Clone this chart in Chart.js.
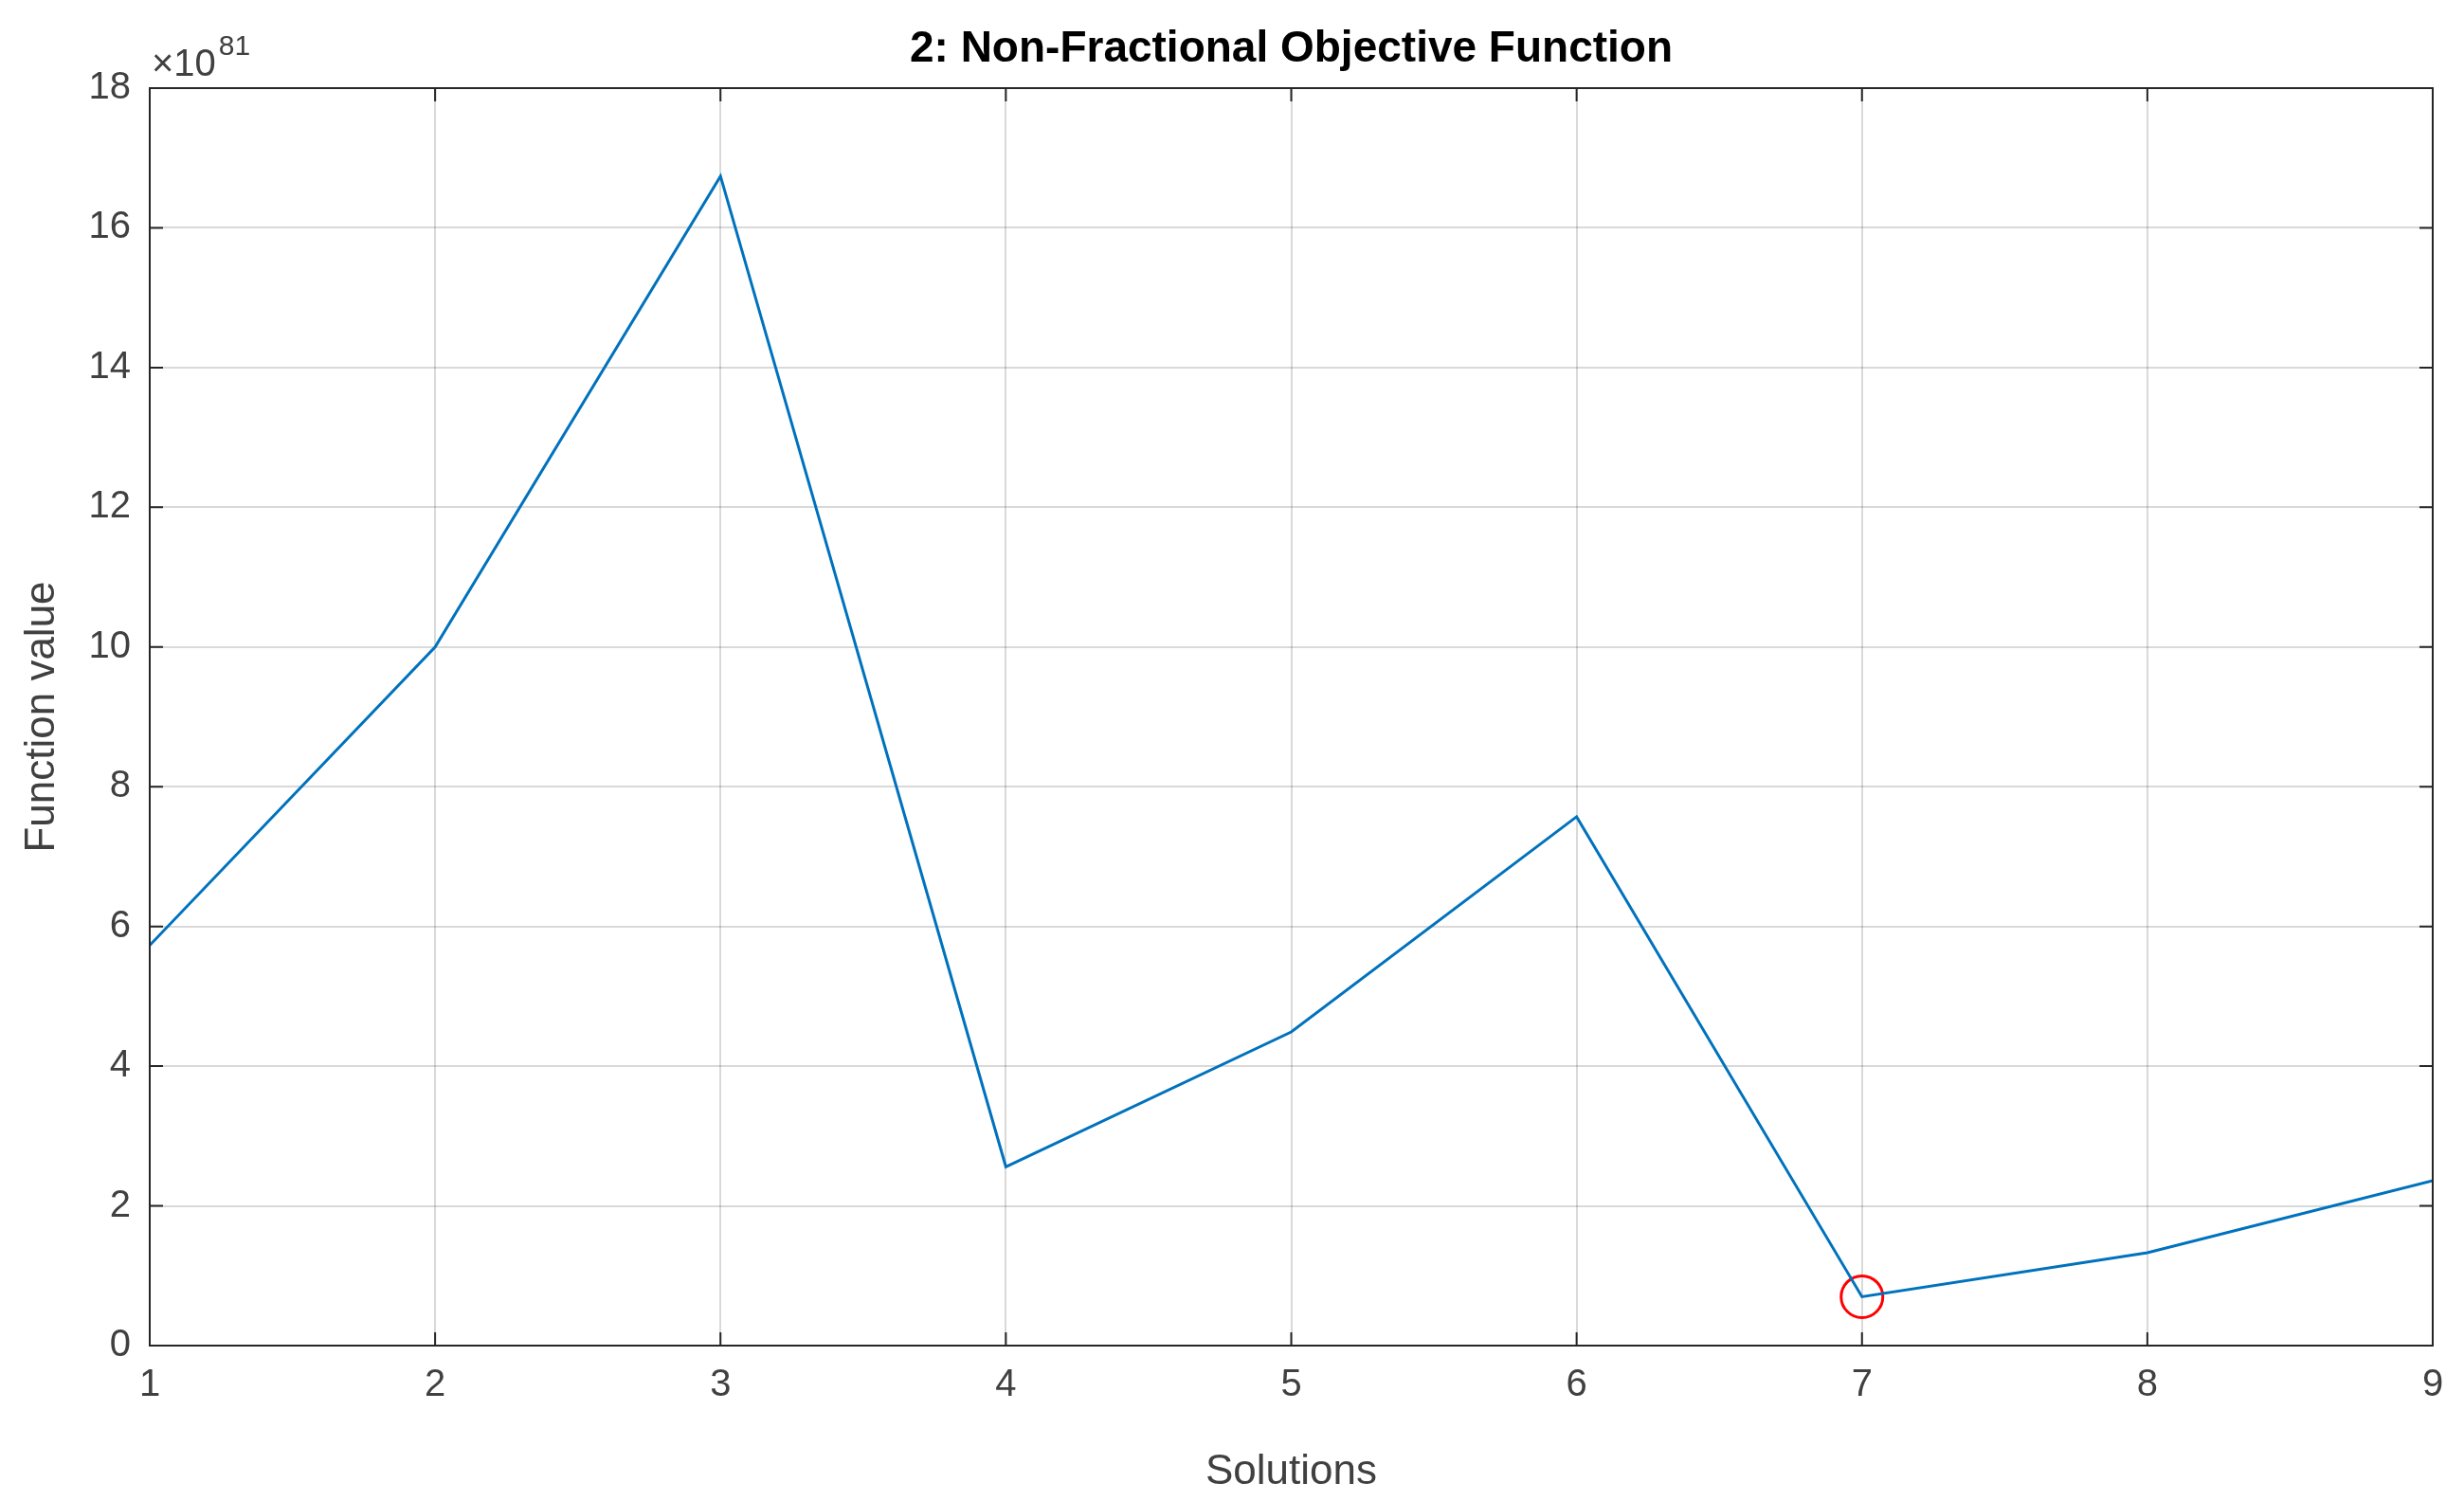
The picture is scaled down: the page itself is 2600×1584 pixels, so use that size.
<!DOCTYPE html>
<html>
<head>
  <meta charset="utf-8">
  <title>Non-Fractional Objective Function</title>
  <script src="https://cdn.jsdelivr.net/npm/chart.js@4.4.0/dist/chart.umd.min.js"></script>
  <style>
    body { margin: 0; background: #fff; }
    #wrap { width: 2600px; height: 1584px; }
  </style>
</head>
<body>
  <div id="wrap"><canvas id="myChart"></canvas></div>
  <script>
    // values in units of 1e81
    const solutions = [1, 2, 3, 4, 5, 6, 7, 8, 9];
    const funcValues = [5.73, 10.0, 16.74, 2.56, 4.49, 7.57, 0.70, 1.33, 2.36];
    const bestIndex = 6;
    const yTicks = [0, 2, 4, 6, 8, 10, 12, 14, 16, 18];

    const font = "'Liberation Sans', Arial, sans-serif";
    const axisColor = '#404040';

    // box, inward ticks, title and exponent label
    const framePlugin = {
      id: 'frame',
      afterDraw(chart) {
        const { ctx, chartArea: a, scales } = chart;
        ctx.save();
        ctx.strokeStyle = '#262626';
        ctx.lineWidth = 2;
        ctx.strokeRect(a.left, a.top, a.right - a.left, a.bottom - a.top);
        const tl = 14;
        ctx.beginPath();
        solutions.forEach(v => {
          const x = scales.x.getPixelForValue(v);
          ctx.moveTo(x, a.bottom); ctx.lineTo(x, a.bottom - tl);
          ctx.moveTo(x, a.top); ctx.lineTo(x, a.top + tl);
        });
        yTicks.forEach(v => {
          const y = scales.y.getPixelForValue(v);
          ctx.moveTo(a.left, y); ctx.lineTo(a.left + tl, y);
          ctx.moveTo(a.right, y); ctx.lineTo(a.right - tl, y);
        });
        ctx.stroke();

        ctx.fillStyle = '#000';
        ctx.font = 'bold 46px ' + font;
        ctx.textAlign = 'center';
        ctx.textBaseline = 'middle';
        ctx.fillText('2: Non-Fractional Objective Function', (a.left + a.right) / 2, 52);

        ctx.fillStyle = axisColor;
        ctx.textAlign = 'left';
        ctx.textBaseline = 'alphabetic';
        ctx.font = '40px ' + font;
        ctx.fillText('\u00d710', 160, 80);
        const w = ctx.measureText('\u00d710').width;
        ctx.font = '30px ' + font;
        ctx.fillText('81', 160 + w + 3, 58);
        ctx.restore();
      }
    };

    const ctx = document.getElementById('myChart').getContext('2d');
    const myChart = new Chart(ctx, {
      type: 'line',
      data: {
        datasets: [{
          data: solutions.map((s, i) => ({ x: s, y: funcValues[i] })),
          borderColor: '#0072BD',
          borderWidth: 3,
          pointRadius: 0,
          tension: 0
        }, {
          data: [{ x: solutions[bestIndex], y: funcValues[bestIndex] }],
          showLine: false,
          pointRadius: 22,
          pointBorderColor: '#FF0000',
          pointBorderWidth: 3,
          pointBackgroundColor: 'rgba(0,0,0,0)'
        }]
      },
      plugins: [framePlugin],
      options: {
        responsive: true,
        maintainAspectRatio: false,
        animation: false,
        layout: { padding: { top: 93, right: 33, left: 14, bottom: 0 } },
        plugins: { legend: { display: false }, tooltip: { enabled: false } },
        scales: {
          x: {
            type: 'linear', min: 1, max: 9,
            afterFit(scale) { scale.height = 164; },
            afterBuildTicks(scale) { scale.ticks = solutions.map(v => ({ value: v })); },
            grid: { color: 'rgba(0,0,0,0.15)', lineWidth: 2, drawTicks: false },
            border: { display: false },
            ticks: { color: axisColor, font: { size: 40, family: font }, padding: 18, maxRotation: 0 },
            title: { display: true, text: 'Solutions', color: axisColor, font: { size: 44, family: font }, padding: { top: 2 } }
          },
          y: {
            min: 0, max: 18,
            afterFit(scale) { scale.width = 144; },
            afterBuildTicks(scale) { scale.ticks = yTicks.map(v => ({ value: v })); },
            grid: { color: 'rgba(0,0,0,0.15)', lineWidth: 2, drawTicks: false },
            border: { display: false },
            ticks: { color: axisColor, font: { size: 40, family: font }, padding: 20 },
            title: { display: true, text: 'Function value', color: axisColor, font: { size: 44, family: font }, padding: { bottom: 0 } }
          }
        }
      }
    });
  </script>
</body>
</html>
